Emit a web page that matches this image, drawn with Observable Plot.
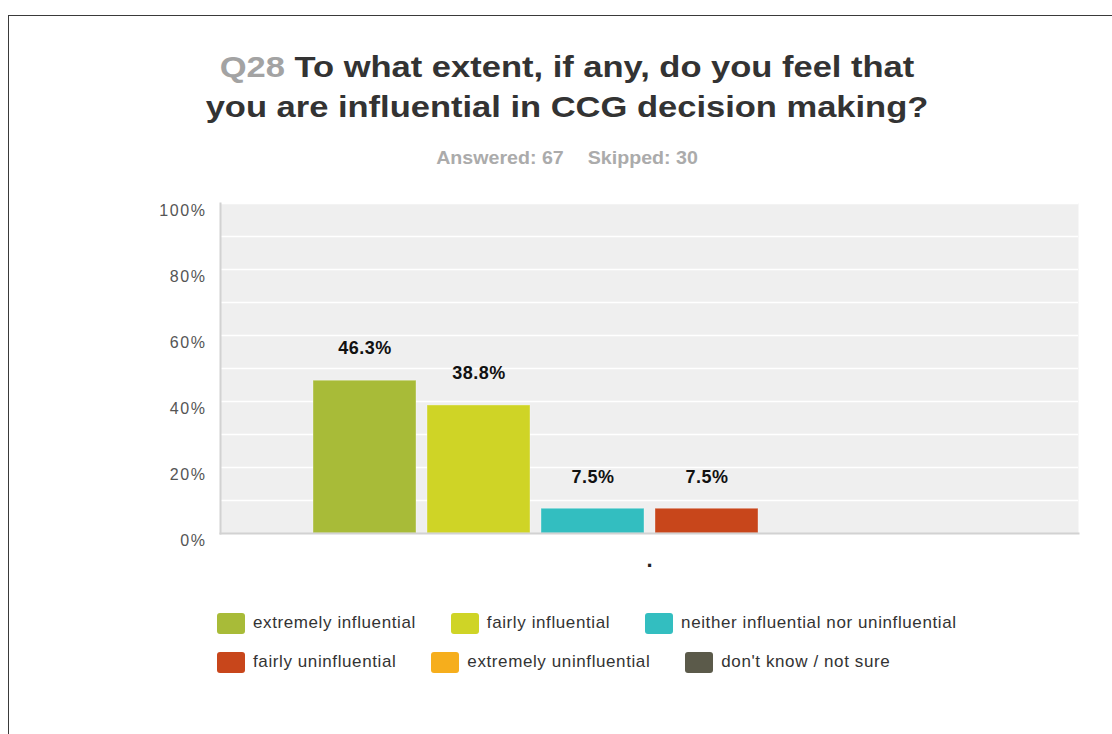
<!DOCTYPE html>
<html>
<head>
<meta charset="utf-8">
<script src="https://cdn.jsdelivr.net/npm/d3@7"></script>
<script src="https://cdn.jsdelivr.net/npm/@observablehq/plot@0.6"></script>
<style>
  html, body { margin: 0; padding: 0; background: #fff; width: 1112px; height: 734px; overflow: hidden; font-family: "Liberation Sans", Arial, sans-serif; }
  #frame { position: absolute; left: 8px; top: 15px; width: 1300px; height: 900px; border-left: 1px solid #3a3a3a; border-top: 1px solid #3a3a3a; }
  #title { position: absolute; left: 0; top: 47px; width: 1134px; text-align: center; font-size: 30px; line-height: 40px; font-weight: bold; color: #333; transform: scaleX(1.15); transform-origin: 567px 0; }
  #title .q { color: #a3a3a3; }
  #subtitle { position: absolute; left: 0; top: 147px; width: 1134px; text-align: center; font-size: 18px; line-height: 22px; font-weight: bold; color: #ababab; transform: scaleX(1.09); transform-origin: 567px 0; }
  #subtitle span + span { margin-left: 22px; }
  #chart { position: absolute; left: 0; top: 180px; }
  #chart g[aria-label="y-axis tick label"] text { letter-spacing: 1.6px; }
  #chart g[aria-label="text"] text { letter-spacing: 0.5px; }
  #legend { position: absolute; left: 217px; top: 612px; width: 820px; display: flex; flex-wrap: wrap; row-gap: 17px; }
  .item { display: flex; align-items: center; margin-right: 35px; height: 22px; }
  .sw { width: 28px; height: 21px; border-radius: 3px; margin-right: 8px; }
  .lab { font-size: 17px; color: #333; letter-spacing: 0.6px; white-space: nowrap; }
</style>
</head>
<body>
<div id="frame"></div>
<div id="title"><span class="q">Q28</span> To what extent, if any, do you feel that<br>you are influential in CCG decision making?</div>
<div id="subtitle"><span>Answered: 67</span><span>Skipped: 30</span></div>
<div id="chart"></div>
<div id="legend"></div>
<script>
const series = ["extremely influential", "fairly influential", "neither influential nor uninfluential", "fairly uninfluential", "extremely uninfluential", "don't know / not sure"];
const values = [46.3, 38.8, 7.5, 7.5, 0, 0];
const colors = ["#a8bb38", "#cfd426", "#33bec0", "#c8461b", "#f6ae1c", "#5b5a4a"];
const groupLabels = ["."];
const yTicks = [0, 20, 40, 60, 80, 100];
const gridTicks = [10, 20, 30, 40, 50, 60, 70, 80, 90, 100];

const data = series.map((s, i) => ({group: groupLabels[0], series: s, value: values[i]}));

const chart = Plot.plot({
  width: 1112,
  height: 400,
  marginLeft: 220,
  marginRight: 34,
  marginTop: 23,
  marginBottom: 47,
  style: {fontFamily: "'Liberation Sans', Arial, sans-serif", background: "transparent"},
  fx: {domain: groupLabels, padding: 0, label: null, axis: null},
  x: {domain: series, paddingInner: 0.1, paddingOuter: 0.8, axis: null},
  y: {domain: [0, 100], ticks: yTicks, tickFormat: d => d + "%", label: null},
  color: {domain: series, range: colors},
  marks: [
    Plot.frame({fill: "#efefef", stroke: null}),
    Plot.ruleY(gridTicks, {stroke: "#ffffff", strokeWidth: 1.6}),
    Plot.axisY({ticks: yTicks, tickFormat: d => d + "%", tickSize: 0, tickPadding: 14, dy: 7, fontSize: 16, fill: "#555", label: null}),
    Plot.axisFx({anchor: "bottom", tickSize: 0, tickPadding: 18, fontSize: 22, fontWeight: "bold", fill: "#222", label: null}),
    Plot.barY(data, {fx: "group", x: "series", y: "value", fill: "series", stroke: "#ffffff", strokeOpacity: 0.35, strokeWidth: 1}),
    Plot.text(data.filter(d => d.value > 0), {fx: "group", x: "series", y: "value", text: d => d.value.toFixed(1) + "%", dy: -32, fontSize: 18, fontWeight: "bold", fill: "#111"}),
    Plot.frame({anchor: "left", stroke: "#d2d2d2", strokeWidth: 2}),
    Plot.frame({anchor: "bottom", stroke: "#d2d2d2", strokeWidth: 2})
  ]
});
document.getElementById("chart").appendChild(chart);

const legend = d3.select("#legend");
series.forEach((s, i) => {
  const it = legend.append("div").attr("class", "item");
  it.append("div").attr("class", "sw").style("background", colors[i]);
  it.append("div").attr("class", "lab").text(s);
});
</script>
</body>
</html>
